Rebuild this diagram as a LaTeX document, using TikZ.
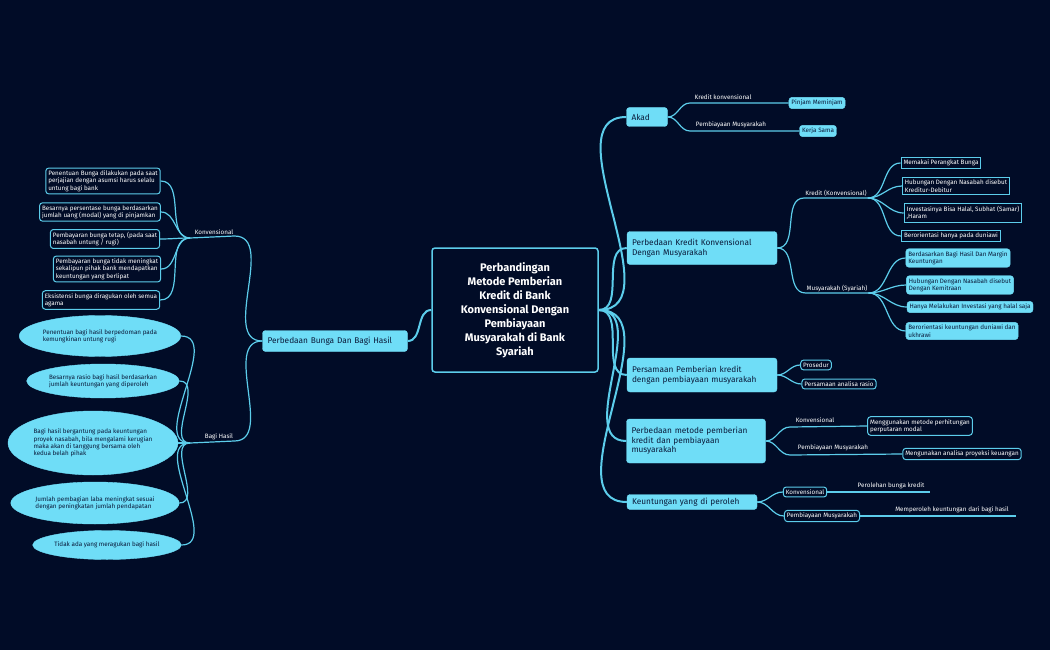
\documentclass[tikz,border=0pt]{standalone}
\usepackage{fontspec}
\setmainfont{Fira Sans}
\usetikzlibrary{shapes.geometric}
\definecolor{bg}{HTML}{010C27}
\definecolor{cy}{HTML}{6FDDF7}
\definecolor{ln}{HTML}{5CCDEB}
\definecolor{dk}{HTML}{0A1A3A}
\begin{document}
\begin{tikzpicture}[x=1pt,y=-1pt,
 every node/.style={font=\fontsize{6.3}{7.3}\selectfont, inner sep=2.5pt},
 fill1/.style={fill=cy,draw=cy,rounded corners=3pt,text=dk,align=left,font=\fontsize{8.3}{9.5}\selectfont,inner xsep=5pt},
 fill2/.style={fill=cy,draw=cy,rounded corners=3pt,text=dk,align=left},
 box/.style={draw=ln,line width=1pt,rounded corners=3pt,text=white,align=left,fill=bg},
 sq/.style={draw=ln,line width=1pt,text=white,align=left,fill=bg},
 lab/.style={text=white,inner sep=1pt,anchor=south},
 ell/.style={ellipse,fill=cy,draw=cy,text=dk,align=left,inner sep=0pt},
 c/.style={draw=ln,line width=1.2pt,out=0,in=180},
 cl/.style={draw=ln,line width=1.2pt,out=180,in=0},
 m/.style={draw=ln,line width=2pt,out=0,in=180},
 ml/.style={draw=ln,line width=2pt,out=180,in=0}]
\fill[bg] (0,0) rectangle (1050,650);
\useasboundingbox (0,0) rectangle (1050,650);
% center
\node[draw=ln,line width=1.5pt,fill=bg,rounded corners=3pt,text=white,align=center,minimum width=166pt,minimum height=124pt,font=\bfseries\fontsize{11}{14}\selectfont] (C) at (515,310) {Perbandingan\\Metode Pemberian\\Kredit di Bank\\Konvensional Dengan\\Pembiayaan\\Musyarakah di Bank\\Syariah};
% right main
\node[fill1,text width=31pt,minimum height=19pt] (A) at (647,117) {Akad};
\node[fill1,text width=140pt,minimum height=33pt] (B) at (702,248) {Perbedaan Kredit Konvensional\\Dengan Musyarakah};
\node[fill1,text width=140pt,minimum height=34pt] (P) at (702,375) {Persamaan Pemberian kredit\\dengan pembiayaan musyarakah};
\node[fill1,text width=129pt,minimum height=44pt] (M) at (696,441) {Perbedaan metode pemberian\\kredit dan pembiayaan\\musyarakah};
\node[fill1,text width=120pt,minimum height=15pt] (K) at (692,502) {Keuntungan yang di peroleh};
\foreach \n in {A,B,P,M,K} \draw[m] (C.east) to (\n.west);
% left main
\node[fill1,text width=135pt,minimum height=21pt] (L) at (335,341) {Perbedaan Bunga Dan Bagi Hasil};
\draw[ml] (C.west) to (L.east);
% Akad
\node[lab] (a1) at (723,101) {Kredit konvensional};
\node[lab] (a2) at (731,129) {Pembiayaan Musyarakah};
\node[fill2] (a1c) at (817,103) {Pinjam Meminjam};
\node[fill2] (a2c) at (818,131) {Kerja Sama};
\draw[c] (A.east) to (690,103) -- (a1c.west);
\draw[c] (A.east) to (690,131) -- (a2c.west);
% Perbedaan kredit
\node[lab] (b1) at (836,198) {Kredit (Konvensional)};
\node[lab] (b2) at (837,293) {Musyarakah (Syariah)};
\draw[c] (B.east) to (b1.south west) -- (b1.south east);
\draw[c] (B.east) to (b2.south west) -- (b2.south east);
\node[sq] (k1) at (941,163) {Memakai Perangkat Bunga};
\node[sq] (k2) at (956,186) {Hubungan Dengan Nasabah disebut\\Kreditur-Debitur};
\node[sq] (k3) at (963,213) {Investasinya Bisa Halal, Subhat (Samar)\\,Haram};
\node[sq] (k4) at (951,236) {Berorientasi hanya pada duniawi};
\foreach \n in {k1,k2,k3,k4} \draw[c] (b1.south east) to (\n.west);
\node[fill2] (s1) at (958,258) {Berdasarkan Bagi Hasil Dan Margin\\Keuntungan};
\node[fill2] (s2) at (960,285) {Hubungan Dengan Nasabah disebut\\Dengan Kemitraan};
\node[fill2] (s3) at (970,307) {Hanya Melakukan Investasi yang halal saja};
\node[fill2] (s4) at (962,331) {Berorientasi keuntungan duniawi dan\\ukhrawi};
\foreach \n in {s1,s2,s3,s4} \draw[c] (b2.south east) to (\n.west);
% Persamaan
\node[box] (p1) at (816,365) {Prosedur};
\node[box] (p2) at (839,384) {Persamaan analisa rasio};
\draw[c] (P.east) to (p1.west); \draw[c] (P.east) to (p2.west);
% Perbedaan metode
\node[lab] (m1) at (815,424) {Konvensional};
\node[lab] (m2) at (833,452) {Pembiayaan Musyarakah};
\node[box] (m1c) at (920,426) {Menggunakan metode perhitungan\\perputaran modal};
\node[box] (m2c) at (962,454) {Mengunakan analisa proyeksi keuangan};
\draw[c] (M.east) to (790,427) -- (m1c.west);
\draw[c] (M.east) to (790,455) -- (m2c.west);
% Keuntungan
\node[box] (e1) at (805,492) {Konvensional};
\node[box] (e2) at (822,516) {Pembiayaan Musyarakah};
\draw[c] (K.east) to (e1.west); \draw[c] (K.east) to (e2.west);
\node[lab] (e1l) at (891,490) {Perolehan bunga kredit};
\node[lab] (e2l) at (952,514) {Memperoleh keuntungan dari bagi hasil};
\draw[draw=ln,line width=1.2pt] (e1.east) -- (930,492);
\draw[draw=ln,line width=1.2pt] (e2.east) -- (1016,516);
% left
\node[lab] (l1) at (214,236) {Konvensional};
\node[lab] (l2) at (219,441) {Bagi Hasil};
\draw[cl] (L.west) to (l1.south east) -- (190,238);
\draw[cl] (L.west) to (l2.south east) -- (190,443);
\coordinate (l1e) at (190,238);
\coordinate (l2e) at (190,443);
\node[box] (v1) at (103,181) {Penentuan Bunga dilakukan pada saat\\perjajian dengan asumsi harus selalu\\untung bagi bank};
\node[box] (v2) at (100,212) {Besarnya persentase bunga berdasarkan\\jumlah uang (modal) yang di pinjamkan};
\node[box] (v3) at (105,239) {Pembayaran bunga tetap, (pada saat\\nasabah untung / rugi)};
\node[box] (v4) at (107,269) {Pembayaran bunga tidak meningkat\\sekalipun pihak bank mendapatkan\\keuntungan yang berlipat};
\node[box] (v5) at (101,300) {Eksistensi bunga diragukan oleh semua\\agama};
\foreach \n in {v1,v2,v3,v4,v5} \draw[cl] (l1e) to (\n.east);
\node[ell,minimum width=156pt,minimum height=41pt] (h1) at (100,336) {Penentuan bagi hasil berpedoman pada\\kemungkinan untung rugi};
\node[ell,minimum width=150pt,minimum height=34pt] (h2) at (103,381) {Besarnya rasio bagi hasil berdasarkan\\jumlah keuntungan yang diperoleh};
\node[ell,minimum width=170pt,minimum height=64pt] (h3) at (93,443) {Bagi hasil bergantung pada keuntungan\\proyek nasabah, bila mengalami kerugian\\maka akan di tanggung bersama oleh\\kedua belah pihak};
\node[ell,minimum width=165pt,minimum height=42pt] (h4) at (95,503) {Jumlah pembagian laba meningkat sesuai\\dengan peningkatan jumlah pendapatan};
\node[ell,minimum width=141pt,minimum height=29pt] (h5) at (107,545) {Tidak ada yang meragukan bagi hasil};
\foreach \n in {h1,h2,h3,h4,h5} \draw[cl] (l2e) to (\n.east);
\end{tikzpicture}
\end{document}
